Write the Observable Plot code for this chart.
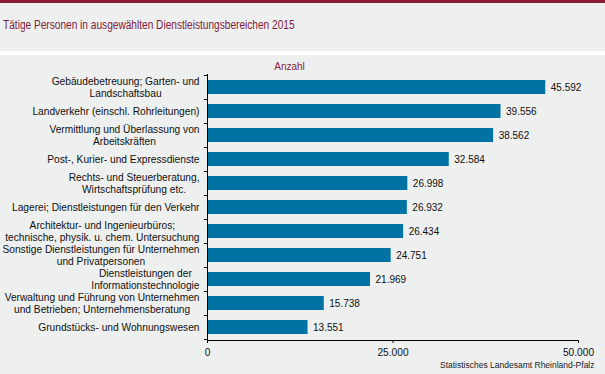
<!DOCTYPE html>
<html>
<head>
<meta charset="utf-8">
<script src="https://cdn.jsdelivr.net/npm/d3@7"></script>
<script src="https://cdn.jsdelivr.net/npm/@observablehq/plot@0.6"></script>
<style>
  html, body { margin: 0; padding: 0; background: #ffffff; }
  #wrap { width: 605px; height: 374px; overflow: hidden; position: relative; }
  #topbar { height: 3px; background: #8a1a38; }
  #title { height: 48px; background: #eeefef; box-sizing: border-box; padding: 15px 0 0 3px;
    font-family: "Liberation Sans", Arial, sans-serif;
    font-size: 12.5px; line-height: 15px; color: #7d1c3c; white-space: nowrap; }
  #title span { display: inline-block; transform: scaleX(0.81); transform-origin: 0 50%; }
  #gap { height: 4px; background: #ffffff; }
  #chart { height: 319px; background: #eeefef; }
  #chart svg { display: block; }
</style>
</head>
<body>
<div id="wrap">
  <div id="topbar"></div>
  <div id="title"><span>Tätige Personen in ausgewählten Dienstleistungsbereichen 2015</span></div>
  <div id="gap"></div>
  <div id="chart"></div>
</div>
<script>
const categories = [
  "Gebäudebetreuung; Garten- und\nLandschaftsbau",
  "Landverkehr (einschl. Rohrleitungen)",
  "Vermittlung und Überlassung von\nArbeitskräften",
  "Post-, Kurier- und Expressdienste",
  "Rechts- und Steuerberatung,\nWirtschaftsprüfung etc.",
  "Lagerei; Dienstleistungen für den Verkehr",
  "Architektur- und Ingenieurbüros;\ntechnische, physik. u. chem. Untersuchung",
  "Sonstige Dienstleistungen für Unternehmen\nund Privatpersonen",
  "Dienstleistungen der\nInformationstechnologie",
  "Verwaltung und Führung von Unternehmen\nund Betrieben; Unternehmensberatung",
  "Grundstücks- und Wohnungswesen"
];
const values = [45592, 39556, 38562, 32584, 26998, 26932, 26434, 24751, 21969, 15738, 13551];
const xTicks = [0, 25000, 50000];
const unitLabel = "Anzahl";
const sourceLabel = "Statistisches Landesamt Rheinland-Pfalz";

const data = categories.map((c, i) => ({category: c, value: values[i]}));
const de = d3.formatLocale({decimal: ",", thousands: ".", grouping: [3], currency: ["", " €"]});
const fmt = de.format(",");

const paddingInner = 0.42;

// small tick marks at the band boundaries on the left of the y axis
function bandBoundaryTicks(index, scales, values, dims) {
  const y = scales.y;
  const step = y.step ? y.step() : (dims.height - dims.marginTop - dims.marginBottom) / categories.length;
  const bw = y.bandwidth ? y.bandwidth() : step * (1 - paddingInner);
  const gapHalf = (step - bw) / 2;
  const ys = categories.map(c => y(c) - gapHalf);
  ys.push(y(categories[categories.length - 1]) + bw + gapHalf);
  const g = d3.create("svg:g").attr("stroke", "#000").attr("stroke-width", 1);
  const x0 = dims.marginLeft;
  for (const yy of ys) {
    const yr = Math.round(yy) + 0.5;
    g.append("line").attr("x1", x0 - 3).attr("x2", x0).attr("y1", yr).attr("y2", yr);
  }
  return g.node();
}

const chart = Plot.plot({
  width: 605,
  height: 319,
  marginLeft: 207,
  marginRight: 27,
  marginTop: 19,
  marginBottom: 34,
  style: {background: "#eeefef", fontFamily: "'Liberation Sans', Arial, sans-serif", fontSize: "10.2px", color: "#111"},
  x: {domain: [0, 50000]},
  y: {domain: categories, paddingInner: paddingInner, paddingOuter: 0.2},
  marks: [
    Plot.barX(data, {x: "value", y: "category", fill: "#0073a3"}),
    Plot.axisY({tickSize: 0, tickPadding: 8, lineHeight: 1.13, fill: "#111", label: null}),
    Plot.axisX({ticks: xTicks, tickFormat: fmt, tickSize: 3, tickPadding: 5, stroke: "#000", fill: "#111", label: null}),
    Plot.frame({anchor: "left", stroke: "#000", strokeWidth: 1}),
    Plot.frame({anchor: "bottom", stroke: "#000", strokeWidth: 1}),
    bandBoundaryTicks,
    Plot.text(data, {x: "value", y: "category", text: d => fmt(d.value), dx: 5, textAnchor: "start", fill: "#111", fontSize: 10}),
    Plot.text([unitLabel], {frameAnchor: "top-left", dx: 82, dy: -8, lineAnchor: "middle", textAnchor: "middle", fill: "#8b2535", fontSize: 10}),
    Plot.text([sourceLabel], {frameAnchor: "bottom-right", dx: 16, dy: 25, lineAnchor: "middle", textAnchor: "end", fill: "#222", fontSize: 8.5})
  ]
});
document.getElementById("chart").appendChild(chart);

// center multi-line category labels on their widest line (block right-aligned at the axis)
chart.querySelectorAll('g[aria-label="y-axis tick label"] text').forEach(t => {
  const spans = t.querySelectorAll("tspan");
  if (spans.length > 1) {
    let maxW = 0;
    spans.forEach(s => { maxW = Math.max(maxW, s.getComputedTextLength()); });
    t.setAttribute("text-anchor", "middle");
    spans.forEach(s => s.setAttribute("x", -maxW / 2));
  }
});
</script>
</body>
</html>
